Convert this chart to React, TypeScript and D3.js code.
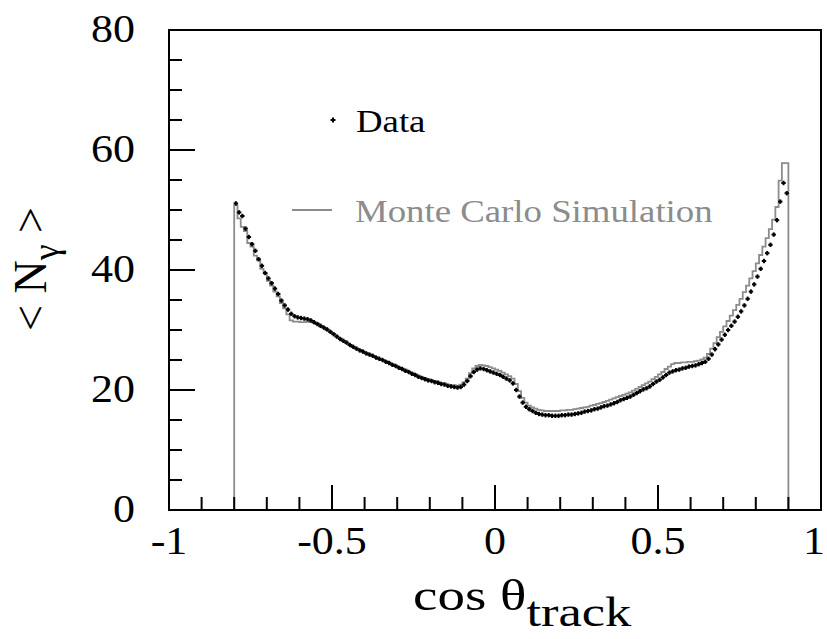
import React from "react";
import * as d3 from "d3";

// Histogram binning (cos theta_track)
const binLow = -0.8;
const binWidth = 0.01;

// Measured <N_gamma> per bin (Data), 170 bins from -0.8 to 0.9
const dataValues: number[] = [
  51.1, 49.6, 49.0, 46.9, 45.5, 44.3, 43.2, 41.8, 40.7, 39.5,
  38.6, 37.8, 36.9, 36.0, 34.9, 34.1, 33.4, 32.7, 32.3, 32.1,
  32.0, 31.9, 31.8, 31.6, 31.3, 31.0, 30.7, 30.4, 30.1, 29.7,
  29.3, 28.9, 28.5, 28.2, 27.9, 27.5, 27.2, 26.9, 26.6, 26.4,
  26.1, 25.9, 25.7, 25.4, 25.2, 25.0, 24.7, 24.5, 24.2, 24.0,
  23.7, 23.5, 23.2, 23.0, 22.7, 22.5, 22.2, 22.0, 21.8, 21.6,
  21.5, 21.3, 21.2, 21.0, 20.9, 20.7, 20.6, 20.5, 20.4, 20.5,
  20.9, 21.5, 22.3, 23.0, 23.4, 23.6, 23.5, 23.3, 23.1, 22.9,
  22.7, 22.5, 22.2, 21.9, 21.6, 21.1, 20.0, 18.9, 17.9, 17.2,
  16.8, 16.5, 16.2, 16.0, 15.9, 15.8, 15.8, 15.7, 15.7, 15.7,
  15.8, 15.8, 15.9, 15.9, 16.0, 16.1, 16.2, 16.4, 16.5, 16.6,
  16.8, 16.9, 17.1, 17.3, 17.4, 17.6, 17.8, 18.0, 18.3, 18.5,
  18.7, 18.9, 19.2, 19.5, 19.8, 20.1, 20.3, 20.6, 21.0, 21.4,
  21.7, 22.1, 22.5, 22.9, 23.1, 23.3, 23.4, 23.6, 23.7, 23.9,
  24.0, 24.1, 24.3, 24.5, 24.7, 25.2, 25.9, 26.8, 27.6, 28.4,
  29.2, 30.0, 30.7, 31.4, 32.2, 33.1, 34.1, 35.2, 36.4, 37.6,
  38.9, 40.2, 41.5, 42.8, 44.2, 45.9, 48.3, 51.4, 54.5, 52.8,
];

// Monte Carlo simulation <N_gamma> per bin
const mcValues: number[] = [
  50.8, 48.6, 47.2, 46.5, 44.5, 43.9, 42.4, 41.6, 40.2, 39.4,
  38.2, 37.4, 36.4, 35.6, 34.5, 33.6, 32.6, 31.6, 31.4, 31.4,
  31.3, 31.3, 31.4, 31.3, 31.2, 31.1, 30.6, 30.4, 30.0, 29.7,
  29.3, 28.9, 28.6, 28.2, 27.8, 27.5, 27.2, 26.9, 26.7, 26.4,
  26.2, 25.9, 25.7, 25.5, 25.2, 25.0, 24.8, 24.6, 24.3, 24.1,
  23.8, 23.6, 23.4, 23.1, 22.9, 22.7, 22.4, 22.2, 22.0, 21.8,
  21.7, 21.5, 21.4, 21.2, 21.1, 20.9, 20.8, 20.8, 20.7, 20.9,
  21.3, 21.9, 22.8, 23.6, 24.0, 24.2, 24.1, 24.0, 23.8, 23.6,
  23.4, 23.2, 22.9, 22.6, 22.3, 21.9, 21.0, 19.8, 18.7, 17.9,
  17.4, 17.1, 16.9, 16.7, 16.6, 16.5, 16.5, 16.5, 16.5, 16.5,
  16.6, 16.6, 16.7, 16.7, 16.8, 16.9, 17.0, 17.1, 17.2, 17.4,
  17.5, 17.7, 17.8, 18.0, 18.2, 18.4, 18.6, 18.8, 19.0, 19.2,
  19.4, 19.6, 19.9, 20.2, 20.5, 20.8, 21.1, 21.4, 21.8, 22.2,
  22.6, 23.0, 23.5, 23.9, 24.3, 24.5, 24.5, 24.6, 24.6, 24.7,
  24.7, 24.8, 24.9, 25.1, 25.4, 26.0, 26.9, 27.8, 28.8, 29.7,
  30.6, 31.5, 32.4, 33.3, 34.2, 35.2, 36.3, 37.4, 38.6, 39.8,
  41.1, 42.5, 43.9, 45.3, 46.8, 48.4, 50.5, 54.9, 57.8, 57.8,
];

const xTickLabels = ["-1", "-0.5", "0", "0.5", "1"];
const xTickValues = [-1, -0.5, 0, 0.5, 1];
const yTickValues = [0, 20, 40, 60, 80];

const W = 827;
const H = 639;
const left = 169;
const right = 821;
const top = 30;
const bottom = 510;

const FONT = "'Liberation Serif', 'Times New Roman', serif";
const GRAY = "#8c8c8c";

function SText(props: {
  x: number;
  y: number;
  size: number;
  sx?: number;
  anchor?: string;
  fill?: string;
  children: React.ReactNode;
}) {
  const { x, y, size, sx = 1.1, anchor = "start", fill = "#000", children } = props;
  return (
    <text
      transform={`translate(${x},${y}) scale(${sx},1)`}
      fontFamily={FONT}
      fontSize={size}
      textAnchor={anchor}
      fill={fill}
    >
      {children}
    </text>
  );
}

export default function App() {
  const x = d3.scaleLinear().domain([-1, 1]).range([left, right]);
  const y = d3.scaleLinear().domain([0, 80]).range([bottom, top]);

  const edges = dataValues.map((_, i) => binLow + i * binWidth);
  const centers = edges.map((e) => e + binWidth / 2);
  const binHigh = binLow + mcValues.length * binWidth;

  // MC step histogram
  const mcPath = d3.path();
  mcPath.moveTo(x(binLow), y(0));
  mcValues.forEach((v, i) => {
    mcPath.lineTo(x(edges[i]), y(v));
    mcPath.lineTo(x(edges[i] + binWidth), y(v));
  });
  mcPath.lineTo(x(binHigh), y(0));

  const xMinor = d3.range(-10, 11).map((k) => k / 10);
  const yMinor = d3.range(0, 81, 5);

  return (
    <svg
      width={W}
      height={H}
      style={{ position: "absolute", left: 0, top: 0, background: "#fff" }}
    >
      <rect x={0} y={0} width={W} height={H} fill="#fff" />
      {/* MC histogram */}
      <path d={mcPath.toString()} fill="none" stroke={GRAY} strokeWidth={1.8} />
      {/* Data points */}
      {dataValues.map((v, i) => (
        <g key={i} stroke="#000" strokeWidth={2}>
          <line x1={x(centers[i]) - 2.2} x2={x(centers[i]) + 2.2} y1={y(v)} y2={y(v)} />
          <line x1={x(centers[i])} x2={x(centers[i])} y1={y(v) - 2.2} y2={y(v) + 2.2} />
        </g>
      ))}
      {/* Frame */}
      <rect
        x={left}
        y={top}
        width={right - left}
        height={bottom - top}
        fill="none"
        stroke="#000"
        strokeWidth={2}
      />
      {/* X ticks */}
      {xMinor.map((t, i) => {
        const major = Math.abs(t * 2 - Math.round(t * 2)) < 1e-6;
        return (
          <line
            key={i}
            x1={x(t)}
            x2={x(t)}
            y1={bottom}
            y2={bottom - (major ? 25 : 13)}
            stroke="#000"
            strokeWidth={2}
          />
        );
      })}
      {/* Y ticks */}
      {yMinor.map((t, i) => {
        const major = t % 20 === 0;
        return (
          <line
            key={i}
            x1={left}
            x2={left + (major ? 26 : 13)}
            y1={y(t)}
            y2={y(t)}
            stroke="#000"
            strokeWidth={2}
          />
        );
      })}
      {/* X tick labels */}
      {xTickValues.map((t, i) => (
        <SText key={i} x={Math.min(x(t), 814)} y={554} size={40} anchor="middle">
          {xTickLabels[i]}
        </SText>
      ))}
      {/* Y tick labels */}
      {yTickValues.map((t, i) => (
        <SText key={i} x={135} y={y(t) + 12} size={40} anchor="end">
          {String(t)}
        </SText>
      ))}
      {/* X axis title */}
      <text
        transform={`translate(413,610) scale(1.25,1)`}
        fontFamily={FONT}
        fontSize={44}
      >
        <tspan>cos θ</tspan>
        <tspan fontSize={42} dy={16}>track</tspan>
      </text>
      {/* Y axis title */}
      <text
        transform={`translate(46,331) rotate(-90)`}
        fontFamily={FONT}
        fontSize={46}
      >
        <tspan>{"< N"}</tspan>
        <tspan fontSize={36} dy={12}>γ</tspan>
        <tspan dy={-12}>{" >"}</tspan>
      </text>
      {/* Legend */}
      <g stroke="#000" strokeWidth={2}>
        <line x1={330.5} x2={335.5} y1={120} y2={120} />
        <line x1={333} x2={333} y1={117.5} y2={122.5} />
      </g>
      <SText x={356} y={132} size={32} sx={1.15}>Data</SText>
      <line x1={292} x2={332} y1={210} y2={210} stroke={GRAY} strokeWidth={1.8} />
      <SText x={355} y={222} size={32} sx={1.15} fill={GRAY}>Monte Carlo Simulation</SText>
    </svg>
  );
}
